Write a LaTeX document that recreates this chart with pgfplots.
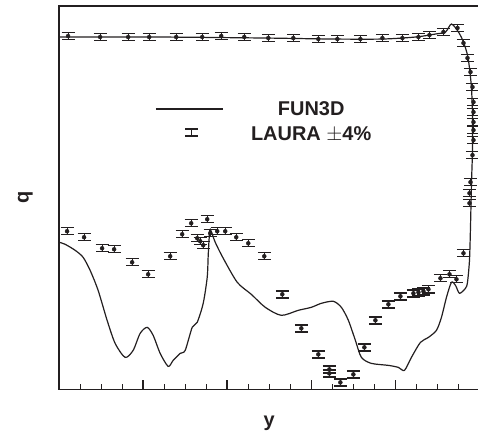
\documentclass[border=0pt]{standalone}
\usepackage{pgfplots}
\pgfplotsset{compat=1.18}
\usepackage{fontspec}
\setmainfont{Liberation Sans}
\definecolor{ink}{HTML}{231F20}

\begin{document}
\begin{tikzpicture}
\begin{axis}[
    scale only axis,
    at={(0,0)}, anchor=south west,
    width=420bp, height=383bp,
    xmin=0, xmax=420, ymin=0, ymax=383,
    axis line style={line width=1.3bp, ink},
    xtick={0,84,...,420}, minor x tick num=3,
    xtick pos=bottom, xtick align=inside, xticklabels={},
    ytick=\empty,
    major tick length=9bp, minor tick length=5.5bp,
    every major tick/.style={line width=1.5bp, ink},
    every minor tick/.style={line width=0.8bp, ink},
    xlabel={\textbf{y}}, ylabel={\textbf{q}},
    label style={font=\fontsize{20}{24}\selectfont, text=ink},
    xlabel style={at={(axis description cs:0.5,-0.088)}, anchor=center},
    ylabel style={at={(axis description cs:-0.08,0.5)}, anchor=center},
    legend style={at={(axis cs:93,290)}, anchor=north west, draw=none, fill=none,
        font=\bfseries\fontsize{20}{24}\selectfont, text=ink,
        column sep=0pt, row sep=10bp, nodes={inner sep=0pt}},
]

% FUN3D
\addplot[ink, line width=1.2bp, smooth, tension=0.45,
    legend image code/.code={\draw[ink, line width=1.2bp] (0bp,0bp)--(67bp,0bp);
        \path[draw=none, fill=none] (0,0)--(95bp,0);}]
coordinates {
(0,147) (6,145) (16,139) (24,132) (31,119) (39,99) (48,69) (56,46) (66,32)
(74,39) (81,56) (88,62) (94,54) (101,36) (109,23) (114,29) (121,36) (126,39)
(133,62) (138,67) (144,86) (148,112) (149,134) (150,152) (151,160)
(156,147) (164,131) (178,107) (192,95) (206,82) (222,74) (239,79) (252,82)
(262,86) (274,88) (282,82) (289,69) (296,49) (302,32) (312,26) (329,24)
(339,22) (345,19) (352,32) (361,47) (369,52) (377,59) (382,72) (387,92)
(392,107) (396,104) (400,96) (406,101) (408,107) (410,129) (411,162)
(412,206) (413,239) (413,274) (412,301) (410,321) (408,334) (404,347)
(399,357) (392,365) (386,357) (376,355) (356,352) (323,350) (273,350)
(206,351) (101,352) (0,352)
};
\addlegendentry{FUN3D}

% LAURA +-4%
\addplot[ink, only marks, mark=none,
    error bars/.cd, y dir=both, y fixed=3.5,
    error mark=|,
    error bar style={line width=1bp, ink},
    error mark options={line width=1.4bp, mark size=6.5bp, ink},
    /pgfplots/legend image code/.code={
        \draw[ink, line width=1bp] (36bp,-1.5bp)--(36bp,5.5bp);
        \draw[ink, line width=1.4bp] (29.5bp,-1.5bp)--(42.5bp,-1.5bp) (29.5bp,5.5bp)--(42.5bp,5.5bp);
        \path[draw=none, fill=none] (0,0)--(95bp,0);}]
coordinates {
(9,353) (41,352) (69,352) (90,352) (117,352) (143,352) (162,353) (185,352)
(209,351) (234,351) (259,350) (278,350) (301,350) (323,351) (343,351)
(359,352) (370,354) (384,357) (398,361)
(404,346) (408,331) (411,317) (413,302) (414,287) (414,277) (414,267)
(414,259) (414,249) (413,234) (411,207) (410,196) (410,186) (404,136)
(397,110) (390,115) (381,111) (369,100) (364,98) (359,97) (354,96) (341,93)
(329,85) (316,69) (305,42) (294,15) (281,7) (270,20) (270,16) (259,35)
(242,61) (223,95) (205,133) (189,146) (177,152)
(166,158) (158,158) (151,156) (148,170) (141,148) (144,144) (138,151)
(132,166) (123,155) (111,133) (89,115) (73,127) (55,140) (43,141) (25,152) (8,158)
};
\addlegendentry{LAURA $\pm$4\%}
\end{axis}
\pgfresetboundingbox
\path (-59bp,-47bp) rectangle (418.5bp,389bp);
\end{tikzpicture}
\end{document}
